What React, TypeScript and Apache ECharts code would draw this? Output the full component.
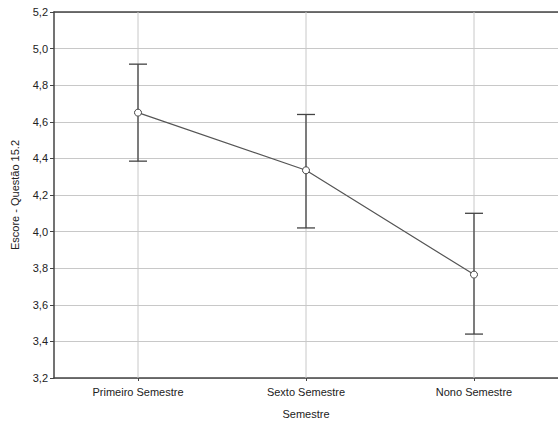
import React, { useEffect, useRef } from "react";
import * as echarts from "echarts";

const categories = ["Primeiro Semestre", "Sexto Semestre", "Nono Semestre"];
const means = [4.65, 4.335, 3.765];
const lower = [4.385, 4.02, 3.44];
const upper = [4.915, 4.64, 4.1];
const yTicks = { min: 3.2, max: 5.2, interval: 0.2 };

export default function App() {
  const ref = useRef<HTMLDivElement>(null);
  useEffect(() => {
    const chart = echarts.init(ref.current!, null, { renderer: "svg" });
    const font = "Liberation Sans, Arial, sans-serif";
    chart.setOption({
      animation: false,
      backgroundColor: "#ffffff",
      grid: { left: 54, top: 12, right: -3, bottom: 38, containLabel: false },
      xAxis: [
        {
          type: "category",
          data: categories,
          boundaryGap: true,
          axisLine: { show: true, lineStyle: { color: "#444", width: 1.5 } },
          axisTick: { show: true, alignWithLabel: true, length: 3, lineStyle: { color: "#444" } },
          axisLabel: { color: "#222", fontSize: 11, fontFamily: font, margin: 8 },
          splitLine: { show: false },
          name: "Semestre",
          nameLocation: "middle",
          nameGap: 30,
          nameTextStyle: { color: "#222", fontSize: 11, fontFamily: font },
        },
        {
          type: "category",
          data: categories,
          position: "top",
          axisLine: { show: true, lineStyle: { color: "#444", width: 1.5 } },
          axisTick: { show: false },
          axisLabel: { show: false },
        },
      ],
      yAxis: {
        type: "value",
        min: yTicks.min,
        max: yTicks.max,
        interval: yTicks.interval,
        axisLine: { show: true, lineStyle: { color: "#444", width: 1.5 } },
        axisTick: { show: true, length: 4, lineStyle: { color: "#444" } },
        axisLabel: {
          color: "#222",
          fontSize: 11,
          fontFamily: font,
          margin: 6,
          formatter: (v: number) => v.toFixed(1).replace(".", ","),
        },
        splitLine: { show: true, lineStyle: { color: "#c8c8c8", width: 1 } },
        name: "Escore - Questão 15.2",
        nameLocation: "middle",
        nameGap: 34,
        nameTextStyle: { color: "#222", fontSize: 11, fontFamily: font },
      },
      series: [
        {
          type: "custom",
          z: 1,
          data: categories.map((_, i) => [i]),
          renderItem: (params: any, api: any) => {
            const x = api.coord([api.value(0), yTicks.min])[0];
            const cs = params.coordSys;
            return {
              type: "line",
              shape: { x1: x, y1: cs.y, x2: x, y2: cs.y + cs.height },
              style: { stroke: "#c8c8c8", lineWidth: 1 },
            };
          },
        },
        {
          type: "custom",
          z: 3,
          data: categories.map((_, i) => [i, lower[i], upper[i]]),
          renderItem: (params: any, api: any) => {
            const lo = api.coord([api.value(0), api.value(1)]);
            const hi = api.coord([api.value(0), api.value(2)]);
            const w = 9;
            const st = { stroke: "#444", lineWidth: 1.3 };
            return {
              type: "group",
              children: [
                { type: "line", shape: { x1: lo[0], y1: lo[1], x2: hi[0], y2: hi[1] }, style: st },
                { type: "line", shape: { x1: lo[0] - w, y1: lo[1], x2: lo[0] + w, y2: lo[1] }, style: st },
                { type: "line", shape: { x1: hi[0] - w, y1: hi[1], x2: hi[0] + w, y2: hi[1] }, style: st },
              ],
            };
          },
        },
        {
          type: "line",
          z: 5,
          data: means,
          symbol: "circle",
          symbolSize: 7,
          lineStyle: { color: "#555", width: 1.2 },
          itemStyle: { color: "#ffffff", borderColor: "#444", borderWidth: 1 },
        },
      ],
    });
    return () => chart.dispose();
  }, []);
  return <div ref={ref} style={{ width: 558, height: 424, position: "absolute", left: 0, top: 0 }} />;
}
